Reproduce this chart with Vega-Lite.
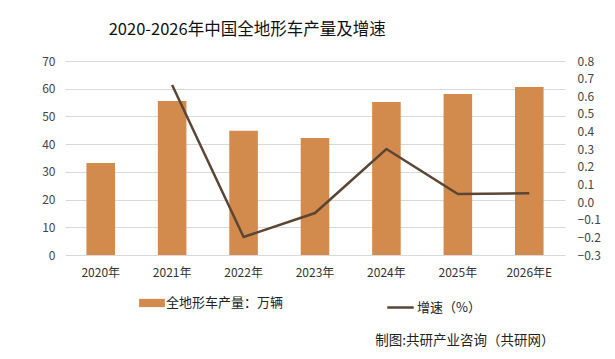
{
  "$schema": "https://vega.github.io/schema/vega-lite/v6.json",
  "autosize": {"type": "none"},
  "width": 500,
  "height": 194,
  "padding": {"left": 65, "top": 61, "right": 50, "bottom": 104},
  "background": "white",
  "config": {
    "font": "Noto Sans CJK SC",
    "view": {"stroke": null},
    "axis": {"labelFont": "Noto Sans CJK SC", "titleFont": "Noto Sans CJK SC"},
    "legend": {"labelFont": "Noto Sans CJK SC"}
  },
  "title": {
    "text": "2020-2026年中国全地形车产量及增速",
    "fontSize": 16.5,
    "fontWeight": "normal",
    "color": "#111111",
    "anchor": "start",
    "dx": 67,
    "offset": 17
  },
  "data": {
    "values": [
      {"year": "2020年", "output": 33.2, "growth": null},
      {"year": "2021年", "output": 55.6, "growth": 0.664},
      {"year": "2022年", "output": 44.8, "growth": -0.198},
      {"year": "2023年", "output": 42.2, "growth": -0.062},
      {"year": "2024年", "output": 55.2, "growth": 0.301},
      {"year": "2025年", "output": 58.1, "growth": 0.046},
      {"year": "2026年E", "output": 60.6, "growth": 0.05}
    ]
  },
  "encoding": {
    "x": {
      "field": "year",
      "type": "nominal",
      "sort": null,
      "scale": {"paddingInner": 0.6, "paddingOuter": 0.3},
      "axis": {
        "title": "制图:共研产业咨询（共研网）",
        "titleFontSize": 13.5,
        "titleFontWeight": "normal",
        "titleColor": "#222222",
        "titleAnchor": "end",
        "titleAlign": "right",
        "titleBaseline": "middle",
        "titleX": 489,
        "titleY": 85,
        "labelAngle": 0,
        "labelFontSize": 12,
        "labelColor": "#333333",
        "labelPadding": 12,
        "domain": false,
        "ticks": false,
        "grid": false
      }
    }
  },
  "layer": [
    {
      "mark": {"type": "bar"},
      "encoding": {
        "y": {
          "field": "output",
          "type": "quantitative",
          "scale": {"domain": [0, 70]},
          "axis": {
            "title": null,
            "values": [0, 10, 20, 30, 40, 50, 60, 70],
            "domain": false,
            "ticks": false,
            "labelPadding": 10,
            "labelFontSize": 12,
            "labelColor": "#444444",
            "gridColor": "#D9D9D9",
            "gridWidth": 1
          }
        },
        "color": {
          "datum": "全地形车产量：万辆",
          "scale": {"range": ["#D38B4D"]},
          "legend": {
            "title": null,
            "orient": "none",
            "legendX": 77,
            "legendY": 232,
            "symbolType": "M-1.4,-0.45H1.4V0.45H-1.4Z",
            "symbolSize": 340,
            "symbolOpacity": 1,
            "labelFontSize": 13,
            "labelColor": "#222222",
            "labelOffset": 4
          }
        }
      }
    },
    {
      "mark": {"type": "line", "strokeWidth": 2.5},
      "encoding": {
        "y": {
          "field": "growth",
          "type": "quantitative",
          "scale": {"domain": [-0.3, 0.8]},
          "axis": {
            "title": null,
            "orient": "right",
            "values": [-0.3, -0.2, -0.1, 0, 0.1, 0.2, 0.3, 0.4, 0.5, 0.6, 0.7, 0.8],
            "format": ".1f",
            "grid": false,
            "domain": false,
            "ticks": false,
            "labelPadding": 12,
            "labelFontSize": 12,
            "labelColor": "#444444"
          }
        },
        "stroke": {
          "datum": "增速（%）",
          "scale": {"range": ["#5B4636"]},
          "legend": {
            "title": null,
            "orient": "none",
            "legendX": 321,
            "legendY": 232,
            "symbolType": "stroke",
            "symbolSize": 700,
            "symbolStrokeWidth": 2.5,
            "labelFontSize": 13,
            "labelColor": "#222222",
            "labelOffset": 2
          }
        }
      }
    }
  ],
  "resolve": {"scale": {"y": "independent"}}
}
